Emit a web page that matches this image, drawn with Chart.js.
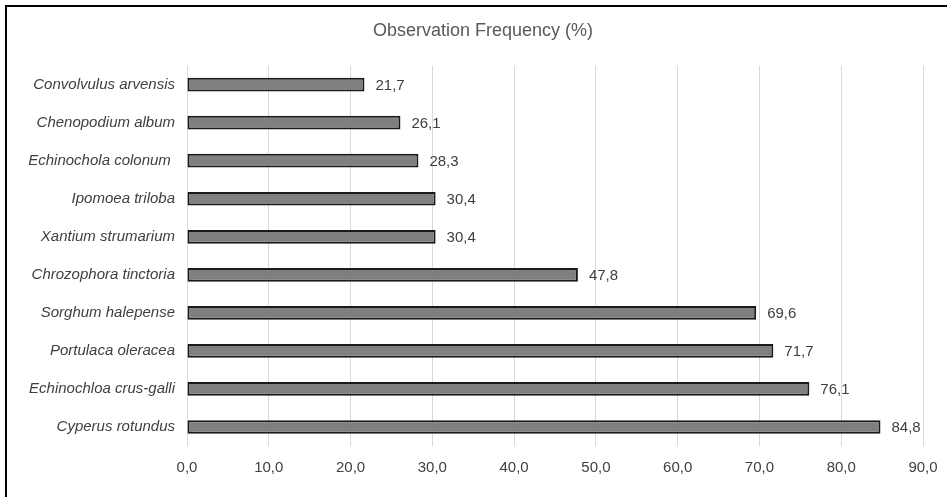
<!DOCTYPE html>
<html>
<head>
<meta charset="utf-8">
<script src="https://cdn.jsdelivr.net/npm/chart.js@4/dist/chart.umd.min.js"></script>
<style>
    body { margin: 0; background: #ffffff; }
    #wrap { position: relative; width: 947px; height: 497px; }
    #frame { position: absolute; left: 5px; top: 5px; right: 0; bottom: 0;
             border-top: 2px solid #000; border-left: 2px solid #000; pointer-events: none; }
</style>
</head>
<body>
<div id="wrap">
    <canvas id="weedChart" width="947" height="497"></canvas>
    <div id="frame"></div>
</div>
<script>
// Arten (von oben nach unten)
var species = [
    'Convolvulus arvensis',
    'Chenopodium album',
    'Echinochola colonum ',
    'Ipomoea triloba',
    'Xantium strumarium',
    'Chrozophora tinctoria',
    'Sorghum halepense',
    'Portulaca oleracea',
    'Echinochloa crus-galli',
    'Cyperus rotundus'
];

// Beobachtungshäufigkeit in %
var frequency = [21.7, 26.1, 28.3, 30.4, 30.4, 47.8, 69.6, 71.7, 76.1, 84.8];

// Achsenbereich
var axisMin = 0;
var axisMax = 90;
var axisStep = 10;

function commaFormat(v) {
    return Number(v).toFixed(1).replace('.', ',');
}

// Werte rechts neben die Balken schreiben
const valueLabels = {
    id: 'valueLabels',
    afterLayout: function(chart) {
        // Titel etwas nach rechts schieben (wie im Original)
        if (chart.titleBlock) {
            chart.titleBlock.left = 19;
            chart.titleBlock.right = 947;
        }
    },
    afterDatasetsDraw: function(chart) {
        var ctx = chart.ctx;
        var meta = chart.getDatasetMeta(0);
        ctx.save();
        ctx.font = '15px "Liberation Sans", Arial, sans-serif';
        ctx.fillStyle = '#404040';
        ctx.textAlign = 'left';
        ctx.textBaseline = 'middle';
        meta.data.forEach(function(bar, i) {
            ctx.fillText(commaFormat(frequency[i]), bar.x + 11, bar.y + 1);
        });
        ctx.restore();
    }
};

const config = {
    type: 'bar',
    data: {
        labels: species,
        datasets: [{
            label: 'Observation Frequency (%)',
            data: frequency,
            backgroundColor: '#7f7f7f',
            borderColor: '#1a1a1a',
            borderWidth: 2,
            borderSkipped: false,
            barPercentage: 0.36,
            categoryPercentage: 1.0
        }]
    },
    options: {
        indexAxis: 'y',
        responsive: false,
        animation: false,
        layout: {
            padding: { left: 0, right: 24, top: 0, bottom: 13 }
        },
        plugins: {
            legend: { display: false },
            tooltip: { enabled: false },
            title: {
                display: true,
                text: 'Observation Frequency (%)',
                color: '#595959',
                font: { family: '"Liberation Sans", Arial, sans-serif', size: 18, weight: 'normal' },
                padding: { top: 20, bottom: 24 }
            }
        },
        scales: {
            x: {
                min: axisMin,
                max: axisMax,
                grid: {
                    color: '#d9d9d9',
                    lineWidth: 1,
                    drawTicks: true,
                    tickLength: 6,
                    tickColor: 'rgba(0,0,0,0)'
                },
                border: { display: false },
                ticks: {
                    stepSize: axisStep,
                    padding: 7,
                    color: '#404040',
                    font: { family: '"Liberation Sans", Arial, sans-serif', size: 15 },
                    callback: function(v) { return commaFormat(v); }
                }
            },
            y: {
                grid: { display: false, drawTicks: false },
                border: { display: false },
                afterFit: function(scale) { scale.width = 187; },
                ticks: {
                    autoSkip: false,
                    padding: 12,
                    color: '#404040',
                    font: { family: '"Liberation Sans", Arial, sans-serif', size: 15, style: 'italic' }
                }
            }
        }
    },
    plugins: [valueLabels]
};

var ctx = document.getElementById('weedChart');
var chart = new Chart(ctx, config);
</script>
</body>
</html>
